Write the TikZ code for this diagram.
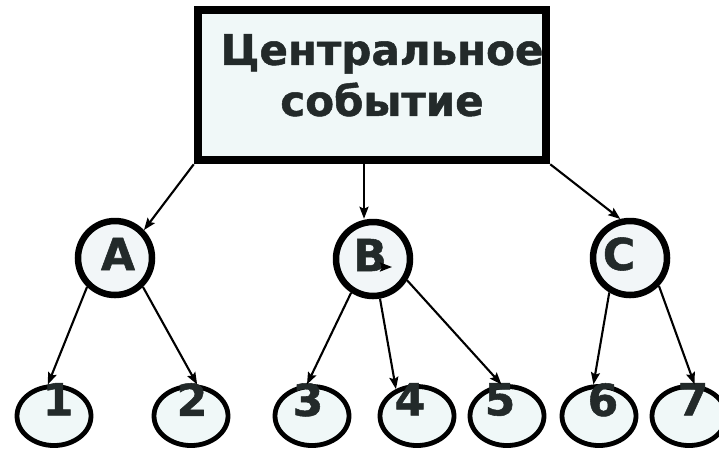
\documentclass[tikz,border=0pt]{standalone}
\usepackage{fontspec}
\setmainfont{DejaVu Sans}[BoldFeatures={FakeBold=1.2}]
\usetikzlibrary{shapes.geometric,arrows.meta}
\definecolor{ink}{HTML}{232A2A}
\definecolor{paper}{HTML}{F0F8F8}
\definecolor{paperb}{HTML}{F2F6F8}
\tikzset{
  big/.style={font=\bfseries\fontsize{44}{52}\selectfont, text=ink, inner sep=0pt},
  head/.style={font=\bfseries\fontsize{42}{51}\selectfont, text=ink, inner sep=0pt},
  topbox/.style={draw=black, line width=8.5pt, fill=paper, minimum width=348pt, minimum height=150pt, inner sep=0pt},
  midcirc/.style={circle, draw=black, line width=6.5pt, fill=paperb, minimum size=74pt, inner sep=0pt},
  leaf/.style={ellipse, draw=black, line width=4.8pt, fill=paper, minimum width=74pt, minimum height=59pt, inner sep=0pt},
  arr/.style={line width=2.1pt, -{Stealth[length=12pt, width=9pt, inset=2pt]}}
}
\begin{document}
\begin{tikzpicture}[x=1pt, y=-1pt]
\useasboundingbox (0,0) rectangle (719,451);
\fill[white] (0,0) rectangle (719,451);

% central event box
\node[topbox] (ev) at (372,85) {};
\node[head, align=center, anchor=north] (evt) at (382,34) {Центральное\\событие};

% intermediate events
\node[midcirc] (A) at (115,258) {};
\node[midcirc] (B) at (373,259) {};
\node[midcirc] (C) at (630,258) {};
\node[big] (lA) at (118,254) {A};
\node[big] (lB) at (370,255) {B};
\node[big] (lC) at (619,254) {C};

% basic events
\foreach \n/\x/\t in {1/54/58, 2/191/192, 3/312/308, 4/417/410, 5/507/500, 6/599/603, 7/689/693} {
  \node[leaf] (e\n) at (\x,416) {};
  \node[big, anchor=north] (n\n) at (\t,383) {\n};
}

% connectors from the central event
\coordinate (ms) at (364,164);
\draw[arr] (ev.south west) -- (A.44);
\draw[arr] (ms) -- (ms |- B.north);
\draw[arr] (ev.south east) -- (C.104);

% connectors to the basic events
\draw[arr] (A.226) -- (e1.101);
\draw[arr] (A.314) -- (e2.79);
\draw[arr] (B.237) -- (e3.99);
\draw[arr] (B.280) -- (e4.128);
\draw[arr] (B.328) -- (e5.100);
\draw[arr] (C.239) -- (e6.100);
\draw[arr] (C.316) -- (e7.80);

% small arrow mark beside B
\coordinate (bk0) at (381,267);
\coordinate (bk1) at (392,267);
\draw[arr] (bk0) -- (bk1);
\end{tikzpicture}
\end{document}
